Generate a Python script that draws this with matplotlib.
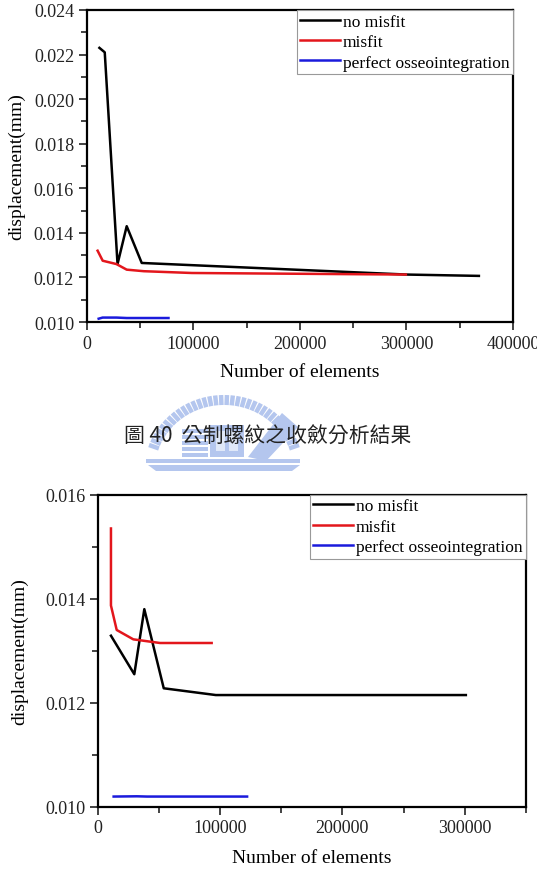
import numpy as np
import matplotlib
matplotlib.use("Agg")
import matplotlib.pyplot as plt
from matplotlib.ticker import MultipleLocator
from matplotlib.patches import Rectangle, Polygon

plt.rcParams['font.family'] = ['Liberation Serif', 'DejaVu Serif']

# --- chart 1 data (metric thread) ---
top_x_nomisfit = [12000, 17000, 29000, 37600, 51700, 300000, 368000]
top_y_nomisfit = [0.0223, 0.0221, 0.0126, 0.0143, 0.01265, 0.01213, 0.01207]
top_x_misfit = [10300, 15100, 28000, 37600, 53700, 98700, 299500]
top_y_misfit = [0.0132, 0.01275, 0.0126, 0.01235, 0.01228, 0.0122, 0.01213]
top_x_perfect = [11300, 15000, 28000, 37600, 76800]
top_y_perfect = [0.01015, 0.0102, 0.0102, 0.01018, 0.01018]

# --- chart 2 data ---
bot_x_nomisfit = [10600, 29700, 37900, 53800, 96400, 301000]
bot_y_nomisfit = [0.01329, 0.01255, 0.0138, 0.01228, 0.01215, 0.01215]
bot_x_misfit = [10600, 10600, 15300, 28900, 50700, 93000]
bot_y_misfit = [0.01535, 0.01387, 0.0134, 0.01322, 0.01315, 0.01315]
bot_x_perfect = [12800, 31900, 40000, 122000]
bot_y_perfect = [0.0102, 0.010205, 0.0102, 0.0102]

labels = ['no misfit', 'misfit', 'perfect osseointegration']
colors = ['black', '#e3161c', '#1a1adc']
caption = '圖 40  公制螺紋之收斂分析結果'

fig = plt.figure(figsize=(5.37, 8.70), dpi=100)


def style(ax, xlim, ylim, xlab_pad, ylab_pad):
    ax.set_xlim(*xlim)
    ax.set_ylim(*ylim)
    ax.xaxis.set_major_locator(MultipleLocator(100000))
    ax.xaxis.set_minor_locator(MultipleLocator(50000))
    ax.yaxis.set_major_locator(MultipleLocator(0.002))
    ax.yaxis.set_minor_locator(MultipleLocator(0.001))
    ax.xaxis.set_major_formatter(plt.FuncFormatter(lambda v, p: '%d' % v))
    ax.yaxis.set_major_formatter(plt.FuncFormatter(lambda v, p: '%.3f' % v))
    ax.tick_params(which='both', direction='out', top=False, right=False,
                   width=1.2, labelsize=13, colors='#222222', pad=3)
    ax.tick_params(which='major', length=6)
    ax.tick_params(which='minor', length=4)
    for s in ax.spines.values():
        s.set_linewidth(1.6)
    ax.set_xlabel('Number of elements', fontsize=14, labelpad=xlab_pad)
    ax.set_ylabel('displacement(mm)', fontsize=14, labelpad=ylab_pad)
    leg = ax.legend(loc='upper right', borderaxespad=0, fontsize=12.5,
                    handlelength=2.3, handletextpad=0.15, labelspacing=0.25,
                    borderpad=0.2, fancybox=False, framealpha=1)
    leg.get_frame().set_edgecolor('#999999')
    leg.get_frame().set_linewidth(0.8)


ax1 = fig.add_axes([0.1613, 0.6287, 0.794, 0.3587])
ax1.plot(top_x_nomisfit, top_y_nomisfit, color=colors[0], lw=1.8, label=labels[0])
ax1.plot(top_x_misfit, top_y_misfit, color=colors[1], lw=1.8, label=labels[1])
ax1.plot(top_x_perfect, top_y_perfect, color=colors[2], lw=1.8, label=labels[2])
style(ax1, (0, 400000), (0.010, 0.024), 8, 6)

ax2 = fig.add_axes([0.1825, 0.0713, 0.7965, 0.359])
ax2.plot(bot_x_nomisfit, bot_y_nomisfit, color=colors[0], lw=1.8, label=labels[0])
ax2.plot(bot_x_misfit, bot_y_misfit, color=colors[1], lw=1.8, label=labels[1])
ax2.plot(bot_x_perfect, bot_y_perfect, color=colors[2], lw=1.8, label=labels[2])
style(ax2, (0, 350000), (0.010, 0.016), 9, 12)

# faint university watermark behind the caption
wm = fig.add_axes([0, 0, 1, 1], zorder=-1)
wm.set_xlim(0, 537)
wm.set_ylim(870, 0)
wm.axis('off')
wc = '#b4c6ee'
cx, cy = 224, 472
for a in np.linspace(np.radians(200), np.radians(340), 34):
    r0, r1 = 66, 76
    wm.plot([cx + r0 * np.cos(a) * 1.05, cx + r1 * np.cos(a) * 1.05],
            [cy + r0 * np.sin(a), cy + r1 * np.sin(a)], color=wc, lw=3.2,
            solid_capstyle='butt')
for i in range(5):
    wm.add_patch(Rectangle((182, 430 + i * 6), 26, 3.5, color=wc, lw=0))
wm.add_patch(Rectangle((210, 426), 34, 32, color=wc, lw=0))
wm.add_patch(Rectangle((216, 432), 9, 20, color='white', lw=0, alpha=0.6))
wm.add_patch(Rectangle((229, 432), 9, 20, color='white', lw=0, alpha=0.6))
wm.add_patch(Polygon([[248, 458], [282, 414], [298, 428], [266, 462]], color=wc, lw=0))
wm.add_patch(Rectangle((146, 460), 154, 4, color=wc, lw=0))
wm.add_patch(Polygon([[148, 466], [300, 466], [292, 472], [156, 472]], color=wc, lw=0))

fig.text(0.498, 1 - 437 / 870, caption, ha='center', va='center', fontsize=15,
         family=['Noto Sans CJK TC', 'DejaVu Sans'], weight='light', color='#222222')

fig.savefig('out.png', dpi=100)
